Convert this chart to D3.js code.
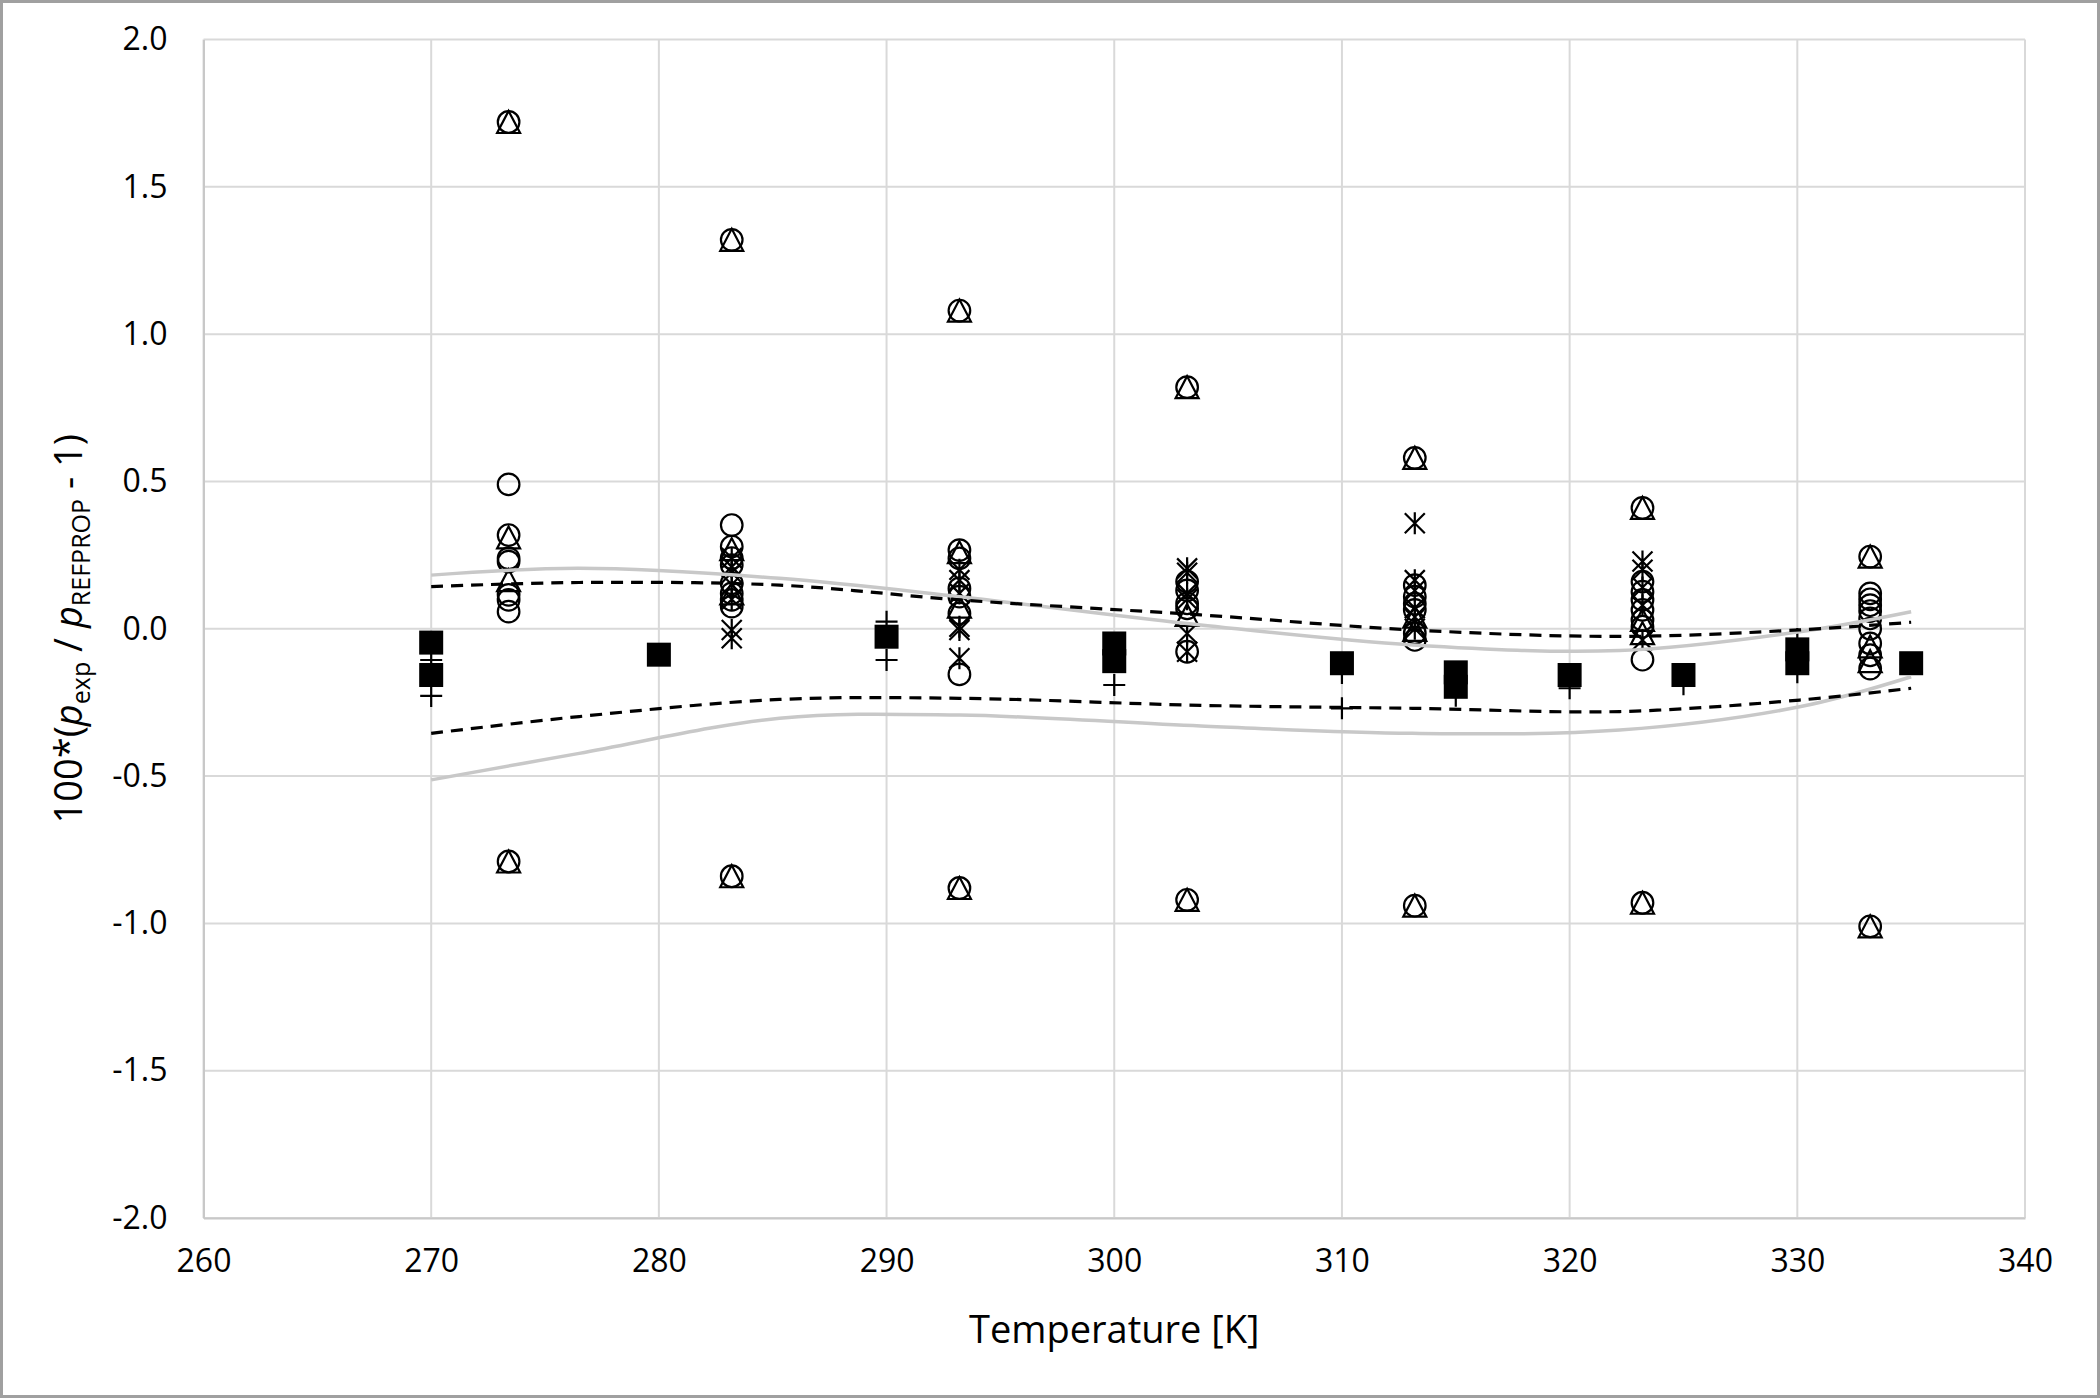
<!DOCTYPE html>
<html>
<head>
<meta charset="utf-8">
<script src="https://cdn.jsdelivr.net/npm/d3@7"></script>
<style>
  html, body { margin: 0; padding: 0; background: #fff; }
  svg { display: block; }
  text { font-family: "Open Sans", "Noto Sans", sans-serif; fill: #000; }
</style>
</head>
<body>
<svg id="chart" width="2100" height="1398"></svg>
<script>
// ---------- data ----------
const xTicks = [260, 270, 280, 290, 300, 310, 320, 330, 340];
const yTicks = [-2.0, -1.5, -1.0, -0.5, 0.0, 0.5, 1.0, 1.5, 2.0];

// filled squares
const squareT = [270, 270, 280, 290, 300, 300, 310, 315, 315, 320, 325, 330, 330, 335];
const squareV = [-0.047, -0.157, -0.088, -0.027, -0.05, -0.11, -0.117, -0.148, -0.197, -0.157, -0.157, -0.07, -0.117, -0.117];

// plus markers
const plusT = [270, 270, 290, 290, 300, 310, 310, 315, 320, 325, 330, 330];
const plusV = [-0.106, -0.228, 0.024, -0.106, -0.191, -0.15, -0.27, -0.227, -0.202, -0.188, -0.148, -0.035];

// open circles
const circleT = [
  273.4, 273.4, 273.4, 273.4, 273.4, 273.4, 273.4, 273.4, 273.4,
  283.2, 283.2, 283.2, 283.2, 283.2, 283.2, 283.2, 283.2, 283.2, 283.2,
  293.2, 293.2, 293.2, 293.2, 293.2, 293.2, 293.2, 293.2,
  303.2, 303.2, 303.2, 303.2, 303.2, 303.2, 303.2,
  313.2, 313.2, 313.2, 313.2, 313.2, 313.2, 313.2, 313.2,
  323.2, 323.2, 323.2, 323.2, 323.2, 323.2, 323.2, 323.2, 323.2,
  333.2, 333.2, 333.2, 333.2, 333.2, 333.2, 333.2, 333.2, 333.2, 333.2, 333.2
];
const circleV = [
  1.72, 0.49, 0.318, 0.239, 0.228, 0.115, 0.098, 0.058, -0.79,
  1.32, 0.352, 0.279, 0.24, 0.216, 0.154, 0.12, 0.098, 0.075, -0.84,
  1.08, 0.267, 0.239, 0.137, 0.109, 0.052, -0.155, -0.88,
  0.82, 0.16, 0.13, 0.086, 0.069, -0.078, -0.92,
  0.58, 0.148, 0.109, 0.085, 0.064, -0.015, -0.038, -0.94,
  0.41, 0.16, 0.126, 0.098, 0.064, 0.03, 0.007, -0.105, -0.93,
  0.245, 0.12, 0.10, 0.08, 0.06, 0.035, 0.0, -0.05, -0.09, -0.135, -1.01
];

// open triangles
const triangleT = [
  273.4, 273.4, 273.4, 273.4,
  283.2, 283.2, 283.2, 283.2,
  293.2, 293.2, 293.2, 293.2,
  303.2, 303.2, 303.2,
  313.2, 313.2, 313.2, 313.2,
  323.2, 323.2, 323.2, 323.2,
  333.2, 333.2, 333.2, 333.2
];
const triangleV = [
  1.72, 0.31, 0.165, -0.79,
  1.32, 0.27, 0.12, -0.84,
  1.08, 0.26, 0.075, -0.88,
  0.82, 0.047, -0.92,
  0.58, 0.041, -0.004, -0.94,
  0.41, 0.03, -0.015, -0.93,
  0.245, -0.06, -0.11, -1.01
];

// asterisks
const starT = [
  283.2, 283.2, 283.2, 283.2, 283.2, 283.2, 283.2,
  293.2, 293.2, 293.2, 293.2, 293.2, 293.2,
  303.2, 303.2, 303.2, 303.2, 303.2, 303.2,
  313.2, 313.2, 313.2, 313.2, 313.2, 313.2,
  323.2, 323.2, 323.2, 323.2, 323.2
];
const starV = [
  0.24, 0.21, 0.19, 0.15, 0.10, -0.004, -0.032,
  0.2, 0.165, 0.12, 0.007, -0.004, -0.10,
  0.205, 0.19, 0.12, 0.10, -0.016, -0.078,
  0.358, 0.165, 0.13, 0.07, 0.04, 0.0,
  0.228, 0.2, 0.14, 0.08, -0.038
];

// uncertainty bands
const bandT       = [270, 276.5, 285.3, 293.2, 303.8, 313.1, 322.2, 330.1, 335];
const grayUpper   = [0.182, 0.205, 0.171, 0.109, 0.013, -0.055, -0.074, -0.01, 0.058];
const grayLower   = [-0.513, -0.423, -0.304, -0.293, -0.33, -0.355, -0.344, -0.265, -0.163];
const dashUpper   = [0.143, 0.157, 0.148, 0.098, 0.047, -0.004, -0.026, -0.004, 0.022];
const dashLower   = [-0.355, -0.298, -0.24, -0.236, -0.26, -0.27, -0.281, -0.242, -0.202];

// ---------- layout ----------
const W = 2100, H = 1398;
const plot = { left: 203.5, right: 2025, top: 39.5, bottom: 1218 };

const svg = d3.select("#chart");
svg.append("rect").attr("x", 1.5).attr("y", 1.5).attr("width", W - 3).attr("height", H - 3)
  .attr("fill", "#fff").attr("stroke", "#a0a0a0").attr("stroke-width", 3);

const x = d3.scaleLinear().domain([260, 340]).range([plot.left, plot.right]);
const y = d3.scaleLinear().domain([-2, 2]).range([plot.bottom, plot.top]);

// gridlines
const grid = svg.append("g");
grid.selectAll(".hg").data(yTicks).enter().append("line")
  .attr("x1", plot.left).attr("x2", plot.right)
  .attr("y1", d => y(d)).attr("y2", d => y(d))
  .attr("stroke", "#d9d9d9").attr("stroke-width", 2);
grid.selectAll(".vg").data(xTicks).enter().append("line")
  .attr("y1", plot.top).attr("y2", plot.bottom)
  .attr("x1", d => x(d)).attr("x2", d => x(d))
  .attr("stroke", "#d9d9d9").attr("stroke-width", 2);

// axes (lines + labels)
const xAxis = d3.axisBottom(x).tickValues(xTicks).tickSize(0).tickPadding(31).tickFormat(d3.format("d"));
const gx = svg.append("g").attr("transform", `translate(0,${plot.bottom})`).call(xAxis);
gx.select(".domain").attr("stroke", "#c8c8c8").attr("stroke-width", 2);
gx.selectAll("text").attr("font-size", 32).attr("font-family", "Open Sans").attr("fill", "#000");

const fmtY = v => d3.format(".1f")(v).replace("\u2212", "-");
const yAxis = d3.axisLeft(y).tickValues(yTicks).tickSize(0).tickPadding(36).tickFormat(fmtY);
const gy = svg.append("g").attr("transform", `translate(${plot.left},0)`).call(yAxis);
gy.select(".domain").attr("stroke", "#c8c8c8").attr("stroke-width", 2);
gy.selectAll("text").attr("font-size", 32).attr("font-family", "Open Sans").attr("fill", "#000");

// markers
const mk = svg.append("g");
const sw = 2.2;

mk.selectAll(".sq").data(squareT.map((t, i) => [t, squareV[i]])).enter().append("rect")
  .attr("x", d => x(d[0]) - 12).attr("y", d => y(d[1]) - 12)
  .attr("width", 24).attr("height", 24).attr("fill", "#000");

mk.selectAll(".pl").data(plusT.map((t, i) => [t, plusV[i]])).enter().append("path")
  .attr("transform", d => `translate(${x(d[0])},${y(d[1])})`)
  .attr("d", "M-11,0H11M0,-11V11").attr("stroke", "#000").attr("stroke-width", sw).attr("fill", "none");

mk.selectAll(".ci").data(circleT.map((t, i) => [t, circleV[i]])).enter().append("circle")
  .attr("cx", d => x(d[0])).attr("cy", d => y(d[1])).attr("r", 10.8)
  .attr("fill", "none").attr("stroke", "#000").attr("stroke-width", sw);

mk.selectAll(".tr").data(triangleT.map((t, i) => [t, triangleV[i]])).enter().append("path")
  .attr("transform", d => `translate(${x(d[0])},${y(d[1])})`)
  .attr("d", "M0,-11L11.5,11L-11.5,11Z")
  .attr("fill", "none").attr("stroke", "#000").attr("stroke-width", sw).attr("stroke-linejoin", "miter");

mk.selectAll(".st").data(starT.map((t, i) => [t, starV[i]])).enter().append("path")
  .attr("transform", d => `translate(${x(d[0])},${y(d[1])})`)
  .attr("d", "M0,-11V11M-10,-10L10,10M10,-10L-10,10")
  .attr("fill", "none").attr("stroke", "#000").attr("stroke-width", sw);

// band lines
const line = d3.line().x(d => x(d[0])).y(d => y(d[1])).curve(d3.curveCatmullRom.alpha(0.5));
const zip = arr => bandT.map((t, i) => [t, arr[i]]);
[grayUpper, grayLower].forEach(a => {
  svg.append("path").datum(zip(a)).attr("d", line)
    .attr("fill", "none").attr("stroke", "#c8c8c8").attr("stroke-width", 3.5);
});
[dashUpper, dashLower].forEach(a => {
  svg.append("path").datum(zip(a)).attr("d", line)
    .attr("fill", "none").attr("stroke", "#000").attr("stroke-width", 3.2)
    .attr("stroke-dasharray", "12,8");
});

// axis titles
svg.append("text").attr("x", (plot.left + plot.right) / 2).attr("y", 1343)
  .attr("text-anchor", "middle").attr("font-size", 38).text("Temperature [K]");

const yt = svg.append("text")
  .attr("transform", `translate(82,${(plot.top + plot.bottom) / 2}) rotate(-90)`)
  .attr("text-anchor", "middle").attr("font-size", 38);
yt.append("tspan").text("100*(");
yt.append("tspan").attr("font-style", "italic").text("p");
yt.append("tspan").attr("font-size", 25).attr("dy", 8).text("exp");
yt.append("tspan").attr("dy", -8).text(" / ");
yt.append("tspan").attr("font-style", "italic").text("p");
yt.append("tspan").attr("font-size", 25).attr("dy", 8).text("REFPROP");
yt.append("tspan").attr("dy", -8).text(" - 1)");
</script>
</body>
</html>
